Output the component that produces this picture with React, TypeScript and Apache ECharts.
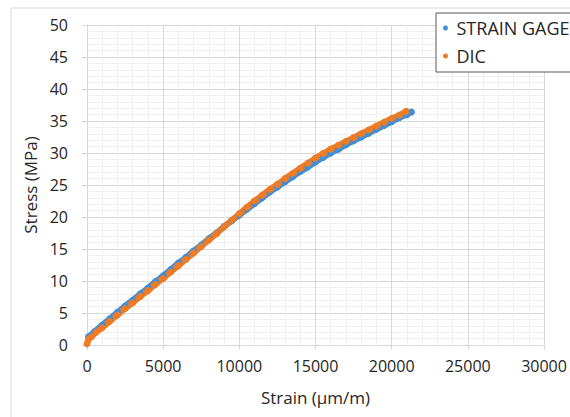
import { useEffect, useRef } from "react";
import * as echarts from "echarts";

// Stress–strain readings: [strain (µm/m), stress (MPa)]
const strainGage: [number, number][] = [
  [100, 1.3], [500, 2.1], [1000, 3.1], [1500, 4.1], [2000, 5.1], [2500, 6.1],
  [3000, 7.0], [3500, 8.0], [4000, 8.9], [4500, 9.9], [5000, 10.8], [5500, 11.8],
  [6000, 12.8], [6500, 13.7], [7000, 14.7], [7500, 15.6], [8000, 16.6], [8500, 17.5],
  [9000, 18.5], [9500, 19.4], [10000, 20.3], [10500, 21.2], [11000, 22.1], [11500, 23.0],
  [12000, 23.9], [12500, 24.7], [13000, 25.5], [13500, 26.3], [14000, 27.1], [14500, 27.8],
  [15000, 28.6], [15500, 29.3], [16000, 30.0], [16500, 30.6], [17000, 31.3], [17500, 31.9],
  [18000, 32.5], [18500, 33.1], [19000, 33.7], [19500, 34.3], [20000, 34.9], [20500, 35.5],
  [21000, 36.0], [21300, 36.4],
];

const dic: [number, number][] = [
  [0, 0.2], [100, 0.9], [300, 1.3], [600, 2.0], [1000, 2.7], [1500, 3.7],
  [2000, 4.7], [2500, 5.7], [3000, 6.6], [3500, 7.6], [4000, 8.5], [4500, 9.5],
  [5000, 10.4], [5500, 11.4], [6000, 12.4], [6500, 13.4], [7000, 14.4], [7500, 15.4],
  [8000, 16.4], [8500, 17.4], [9000, 18.5], [9500, 19.5], [10000, 20.5], [10500, 21.5],
  [11000, 22.5], [11500, 23.4], [12000, 24.3], [12500, 25.1], [13000, 26.0], [13500, 26.8],
  [14000, 27.6], [14500, 28.4], [15000, 29.2], [15500, 29.9], [16000, 30.6], [16500, 31.2],
  [17000, 31.8], [17500, 32.4], [18000, 33.0], [18500, 33.6], [19000, 34.2], [19500, 34.8],
  [20000, 35.4], [20500, 35.9], [20950, 36.5],
];

const seriesNames = ["STRAIN GAGE", "DIC"];
const seriesColors = ["#3f8fd8", "#ee7b26"];

const FONT = "Open Sans";
const TEXT = "#262626";
const GRID_MAJOR = "#d9d9d9";
const GRID_MINOR = "#f0f0f0";

export default function App() {
  const ref = useRef<HTMLDivElement>(null);

  useEffect(() => {
    document.body.style.margin = "0";
    if (!ref.current) return;
    const chart = echarts.init(ref.current, undefined, { renderer: "svg" });

    const makeSeries = (name: string, data: [number, number][], color: string) => ({
      name,
      type: "line",
      data,
      symbol: "circle",
      symbolSize: 7,
      showSymbol: true,
      itemStyle: { color },
      lineStyle: { color, width: 6 },
      emphasis: { disabled: true },
    });

    chart.setOption({
      animation: false,
      backgroundColor: "#ffffff",
      textStyle: { fontFamily: FONT },
      graphic: [
        {
          type: "rect",
          silent: true,
          z: -10,
          shape: { x: 11, y: 8, width: 640, height: 480 },
          style: { fill: "none", stroke: GRID_MAJOR, lineWidth: 1 },
        },
      ],
      grid: { left: 87, right: 26, top: 25, bottom: 72, containLabel: false },
      legend: {
        data: seriesNames,
        orient: "vertical",
        left: 436,
        top: 13,
        padding: [6, 10, 7, 7],
        itemGap: 10,
        itemWidth: 12,
        itemHeight: 5,
        icon: "circle",
        backgroundColor: "#ffffff",
        borderColor: "#595959",
        borderWidth: 1,
        borderRadius: 0,
        textStyle: { fontFamily: FONT, fontSize: 18, color: TEXT },
      },
      xAxis: {
        type: "value",
        min: 0,
        max: 30000,
        interval: 5000,
        name: "Strain (µm/m)",
        nameLocation: "middle",
        nameGap: 44,
        nameTextStyle: { fontFamily: FONT, fontSize: 17, color: TEXT },
        axisLine: { show: true, lineStyle: { color: GRID_MAJOR } },
        axisTick: { show: true, length: 5, lineStyle: { color: GRID_MAJOR } },
        axisLabel: {
          fontFamily: FONT,
          fontSize: 16,
          color: TEXT,
          margin: 13,
          formatter: (v: number) => String(v),
        },
        splitLine: { show: true, lineStyle: { color: GRID_MAJOR } },
        minorTick: { show: false, splitNumber: 5 },
        minorSplitLine: { show: true, lineStyle: { color: GRID_MINOR } },
      },
      yAxis: {
        type: "value",
        min: 0,
        max: 50,
        interval: 5,
        name: "Stress (MPa)",
        nameLocation: "middle",
        nameRotate: 90,
        nameGap: 43,
        nameTextStyle: { fontFamily: FONT, fontSize: 17, color: TEXT },
        axisLine: { show: true, lineStyle: { color: GRID_MAJOR } },
        axisTick: { show: true, length: 5, lineStyle: { color: GRID_MAJOR } },
        axisLabel: { fontFamily: FONT, fontSize: 16, color: TEXT, margin: 19 },
        splitLine: { show: true, lineStyle: { color: GRID_MAJOR } },
        minorTick: { show: false, splitNumber: 5 },
        minorSplitLine: { show: true, lineStyle: { color: GRID_MINOR } },
      },
      series: [
        makeSeries(seriesNames[0], strainGage, seriesColors[0]),
        makeSeries(seriesNames[1], dic, seriesColors[1]),
      ],
    });

    return () => chart.dispose();
  }, []);

  return <div ref={ref} style={{ width: 570, height: 417, overflow: "hidden" }} />;
}
